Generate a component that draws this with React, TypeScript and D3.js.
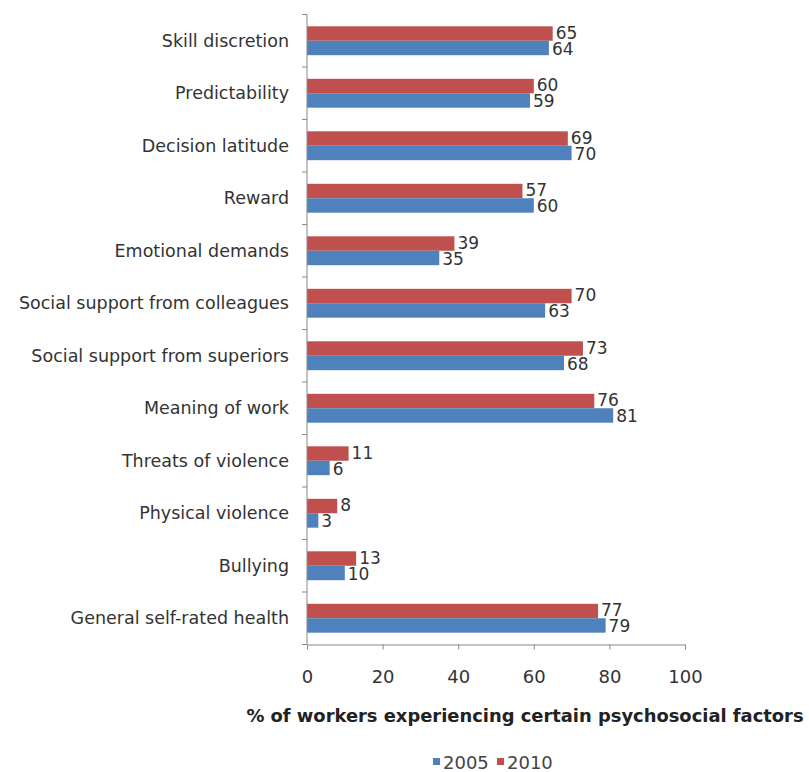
import React, { useEffect, useRef } from 'react';
import * as d3 from 'd3';

const categories = [
  'Skill discretion',
  'Predictability',
  'Decision latitude',
  'Reward',
  'Emotional demands',
  'Social support from colleagues',
  'Social support from superiors',
  'Meaning of work',
  'Threats of violence',
  'Physical violence',
  'Bullying',
  'General self-rated health',
];
const values2010 = [65, 60, 69, 57, 39, 70, 73, 76, 11, 8, 13, 77];
const values2005 = [64, 59, 70, 60, 35, 63, 68, 81, 6, 3, 10, 79];
const seriesNames = ['2005', '2010'];
const xTicks = [0, 20, 40, 60, 80, 100];

const RED = '#c0504d';
const BLUE = '#4f81bd';
const FONT = '"DejaVu Sans", Tahoma, sans-serif';

export default function App() {
  const svgRef = useRef<SVGSVGElement>(null);

  useEffect(() => {
    if (!svgRef.current) return;
    const svg = d3.select(svgRef.current);
    svg.selectAll('*').remove();

    const left = 307;
    const right = 685;
    const top = 14.5;
    const bottom = 644.5;

    const x = d3.scaleLinear().domain([0, 100]).range([left, right]);
    const y = d3.scaleBand().domain(categories).range([top, bottom]).paddingInner(0.45).paddingOuter(0.225);
    const sub = d3.scaleBand().domain(['2010', '2005']).range([0, y.bandwidth()]);

    const rows = categories.map((c, i) => ({ c, v10: values2010[i], v05: values2005[i] }));

    // bars
    const g = svg.append('g');
    g.selectAll('.r10')
      .data(rows)
      .join('rect')
      .attr('x', x(0))
      .attr('y', d => (y(d.c) || 0) + (sub('2010') || 0))
      .attr('width', d => x(d.v10) - x(0))
      .attr('height', sub.bandwidth())
      .attr('fill', RED);
    g.selectAll('.r05')
      .data(rows)
      .join('rect')
      .attr('x', x(0))
      .attr('y', d => (y(d.c) || 0) + (sub('2005') || 0))
      .attr('width', d => x(d.v05) - x(0))
      .attr('height', sub.bandwidth())
      .attr('fill', BLUE);

    // value labels
    const lab = svg.append('g').style('font-family', FONT).style('font-size', '17px').attr('fill', '#333');
    lab.selectAll('.l10')
      .data(rows)
      .join('text')
      .attr('x', d => x(d.v10) + 3)
      .attr('y', d => (y(d.c) || 0) + (sub('2010') || 0) + sub.bandwidth() / 2 - 1)
      .attr('dominant-baseline', 'central')
      .text(d => d.v10);
    lab.selectAll('.l05')
      .data(rows)
      .join('text')
      .attr('x', d => x(d.v05) + 3)
      .attr('y', d => (y(d.c) || 0) + (sub('2005') || 0) + sub.bandwidth() / 2 + 1)
      .attr('dominant-baseline', 'central')
      .text(d => d.v05);

    // y axis
    const yAxis = svg.append('g');
    yAxis.append('line')
      .attr('x1', left).attr('x2', left)
      .attr('y1', top).attr('y2', bottom)
      .attr('stroke', '#888');
    const step = y.step();
    yAxis.selectAll('.yt')
      .data(d3.range(categories.length + 1))
      .join('line')
      .attr('x1', left - 5).attr('x2', left)
      .attr('y1', i => top + i * step).attr('y2', i => top + i * step)
      .attr('stroke', '#888');
    yAxis.selectAll('.yl')
      .data(categories)
      .join('text')
      .attr('x', 289)
      .attr('y', c => (y(c) || 0) + y.bandwidth() / 2)
      .attr('text-anchor', 'end')
      .attr('dominant-baseline', 'central')
      .style('font-family', FONT)
      .style('font-size', '17.5px')
      .attr('fill', '#333')
      .text(c => c);

    // x axis
    const xAxis = svg.append('g')
      .attr('transform', `translate(0,${bottom})`)
      .call(d3.axisBottom(x).tickValues(xTicks).tickSize(5).tickPadding(21).tickSizeOuter(0));
    xAxis.select('.domain').attr('stroke', '#888');
    xAxis.selectAll('line').attr('stroke', '#888');
    xAxis.selectAll('text')
      .style('font-family', FONT)
      .style('font-size', '18px')
      .attr('fill', '#333');

    svg.append('text')
      .attr('x', 525)
      .attr('y', 715)
      .attr('text-anchor', 'middle')
      .attr('dominant-baseline', 'central')
      .style('font-family', FONT)
      .style('font-size', '17.9px')
      .style('font-weight', 'bold')
      .attr('fill', '#222')
      .text('% of workers experiencing certain psychosocial factors');

    // legend
    const legend = svg.append('g').style('font-family', FONT).style('font-size', '18px');
    const legendColors = [BLUE, RED];
    const legendX = [433, 497];
    seriesNames.forEach((s, i) => {
      legend.append('rect')
        .attr('x', legendX[i]).attr('y', 758)
        .attr('width', 7).attr('height', 7)
        .attr('fill', legendColors[i]);
      legend.append('text')
        .attr('x', legendX[i] + 10).attr('y', 762)
        .attr('dominant-baseline', 'central')
        .attr('fill', '#444')
        .text(s);
    });
  }, []);

  return (
    <svg
      ref={svgRef}
      width={809}
      height={772}
      style={{ position: 'absolute', left: 0, top: 0, background: '#fff' }}
    />
  );
}
